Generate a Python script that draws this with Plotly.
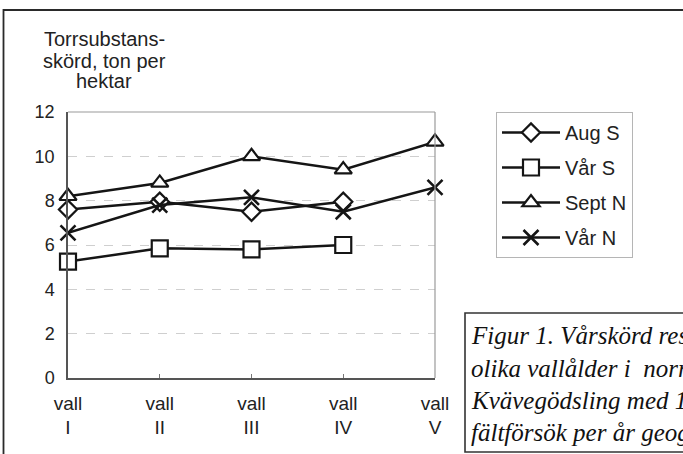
import plotly.graph_objects as go

# ---- data ----
categories = ["vall<br>I", "vall<br>II", "vall<br>III", "vall<br>IV", "vall<br>V"]
aug_s = [7.6, 7.95, 7.5, 7.95, None]
var_s = [5.25, 5.85, 5.8, 6.0, None]
sept_n = [8.2, 8.8, 10.0, 9.4, 10.65]
var_n = [6.55, 7.8, 8.15, 7.5, 8.6]
y_ticks = [0, 2, 4, 6, 8, 10, 12]
y_title_lines = ["Torrsubstans-", "skörd, ton per", "hektar"]
caption_lines = [
    "Figur 1. Vårskörd res",
    "olika vallålder i  norr",
    "Kvävegödsling med 1",
    "fältförsök per år geogr",
]

W, H = 683, 454
ML, MR, MT, MB = 68, 248, 112, 76
PW, PH = W - ML - MR, H - MT - MB


def px(x):
    return (x - ML) / PW


def py(y):
    return (H - MB - y) / PH


xs = list(range(len(categories)))
ink = "#151515"
sans = "Liberation Sans, Arial, sans-serif"

series = [
    ("Aug S", aug_s, "diamond", 14),
    ("Vår S", var_s, "square", 16),
    ("Sept N", sept_n, "triangle-up", 15),
    ("Vår N", var_n, "x-thin", 15),
]

fig = go.Figure()
for i, (name, vals, sym, size) in enumerate(series):
    if sym == "x-thin":
        marker = dict(symbol=sym, size=size, color=ink, line=dict(color=ink, width=2.6))
    else:
        marker = dict(symbol=sym, size=size, color="white", line=dict(color=ink, width=2.2))
    fig.add_trace(go.Scatter(
        x=xs, y=vals, name=name, mode="lines+markers",
        line=dict(color=ink, width=2.5), marker=marker,
        cliponaxis=False, legendgroup=f"g{i}",
    ))

fig.update_layout(
    width=W, height=H,
    margin=dict(l=ML, r=MR, t=MT, b=MB, pad=0),
    paper_bgcolor="white", plot_bgcolor="white",
    font=dict(family=sans, size=19, color="#222"),
    showlegend=True,
    legend=dict(
        x=px(496), y=py(112), xanchor="left", yanchor="top",
        bordercolor="#b5b5b5", borderwidth=1, bgcolor="white",
        font=dict(family=sans, size=20, color="#222"),
        tracegroupgap=6, itemwidth=58,
    ),
)
fig.update_xaxes(
    range=[0, len(categories) - 1], tickvals=xs, ticktext=categories,
    showgrid=False, zeroline=False,
    showline=True, linecolor="#555", linewidth=1.5,
    ticks="inside", ticklen=4, tickcolor="#777",
    ticklabelstandoff=7,
    tickfont=dict(family=sans, size=19, color="#222"),
)
fig.update_yaxes(
    range=[0, 12], tickvals=y_ticks,
    showgrid=True, gridcolor="#cfcfcf", gridwidth=1, griddash="dash",
    zeroline=False,
    showline=True, linecolor="#555", linewidth=1.5,
    ticks="", ticklabelstandoff=8,
    tickfont=dict(family=sans, size=18, color="#222"),
)

shapes = [
    # plot area top and right borders (light gray)
    dict(type="line", xref="paper", yref="paper", x0=0, x1=1, y0=1, y1=1,
         line=dict(color="#9a9a9a", width=1.2)),
    dict(type="line", xref="paper", yref="paper", x0=1, x1=1, y0=0, y1=1,
         line=dict(color="#9a9a9a", width=1.2)),
    # outer frame: top and left
    dict(type="line", xref="paper", yref="paper", x0=px(3), x1=px(W + 5), y0=py(10), y1=py(10),
         line=dict(color="#2a2a2a", width=2.2)),
    dict(type="line", xref="paper", yref="paper", x0=px(3.5), x1=px(3.5), y0=py(9), y1=py(H + 5),
         line=dict(color="#2a2a2a", width=1.8)),
    # caption box
    dict(type="rect", xref="paper", yref="paper", x0=px(465), x1=px(W + 10), y0=py(313), y1=py(452),
         line=dict(color="#333", width=1.6), fillcolor="white", layer="above"),
]
fig.update_layout(shapes=shapes)

annotations = []
for line, yy in zip(y_title_lines, [39, 61, 81]):
    annotations.append(dict(
        text=line, xref="paper", yref="paper", x=px(104), y=py(yy),
        xanchor="center", yanchor="middle", showarrow=False,
        font=dict(family=sans, size=20, color="#222"),
    ))
for line, yy in zip(caption_lines, [335, 368, 400, 432]):
    annotations.append(dict(
        text=f"<i>{line}</i>", xref="paper", yref="paper", x=px(469), y=py(yy),
        xanchor="left", yanchor="middle", showarrow=False, align="left",
        font=dict(family="Liberation Serif, Times New Roman, serif", size=25, color="#111"),
    ))
fig.update_layout(annotations=annotations)

fig.write_html("out.html", config={"displayModeBar": False},
               post_script="document.body.style.margin='0px';")
